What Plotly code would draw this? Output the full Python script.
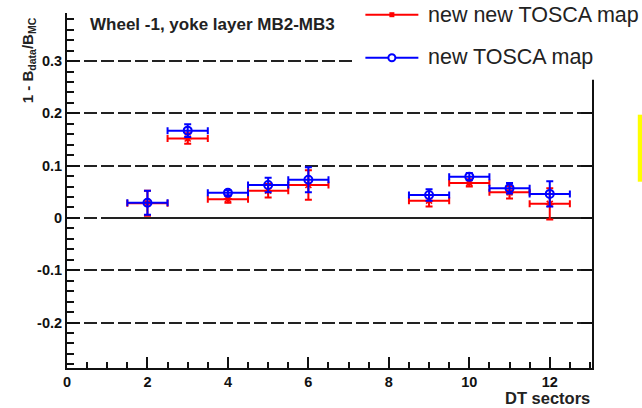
import plotly.graph_objects as go

# DT sector numbers and the half width of each sector bin
sectors = [2, 3, 4, 5, 6, 9, 10, 11, 12]
sector_halfwidth = [0.5, 0.5, 0.5, 0.5, 0.5, 0.5, 0.5, 0.5, 0.5]

# 1 - B_data/B_MC for the two TOSCA field maps, with their uncertainties
new_new_tosca = [0.028, 0.152, 0.036, 0.052, 0.063, 0.033, 0.067, 0.049, 0.027]
new_new_tosca_err = [0.024, 0.010, 0.007, 0.013, 0.028, 0.011, 0.007, 0.012, 0.030]
new_tosca = [0.029, 0.167, 0.048, 0.063, 0.073, 0.044, 0.079, 0.057, 0.046]
new_tosca_err = [0.023, 0.012, 0.005, 0.014, 0.024, 0.011, 0.007, 0.010, 0.024]

series_names = ["new new TOSCA map", "new TOSCA map"]
x_tick_labels = ["0", "2", "4", "6", "8", "10", "12"]
y_tick_values = [-0.2, -0.1, 0, 0.1, 0.2, 0.3]
y_tick_labels = ["-0.2", "-0.1", "0", "0.1", "0.2", "0.3"]

X_RANGE = [0, 13.05]
Y_RANGE = [-0.287, 0.392]
ZERO_LINE_START = 1  # solid zero reference begins at sector 1

W, H = 642, 408
M_L, M_R, M_T, M_B = 66.5, 50.3, 13.3, 39.7
PW, PH = W - M_L - M_R, H - M_T - M_B


def px_x(p):
    """pixel column -> paper x"""
    return (p - M_L) / PW


def px_y(p):
    """pixel row -> paper y"""
    return (H - M_B - p) / PH


RED = "#ff0000"
BLUE = "#0000ff"
FONT = "Liberation Sans, Arial, sans-serif"
DASH = "13px,4px"

fig = go.Figure()

# zero reference: dashed before sector 1, solid afterwards
fig.add_trace(go.Scatter(
    x=[X_RANGE[0], ZERO_LINE_START], y=[0, 0], mode="lines",
    line=dict(color="#222", width=2, dash=DASH), showlegend=False, hoverinfo="skip",
))
fig.add_trace(go.Scatter(
    x=[ZERO_LINE_START, X_RANGE[1]], y=[0, 0], mode="lines",
    line=dict(color="#222", width=2), showlegend=False, hoverinfo="skip",
))

fig.add_trace(go.Scatter(
    x=sectors, y=new_new_tosca, mode="markers", name=series_names[0],
    marker=dict(symbol="asterisk-open", size=7, color=RED, line=dict(color=RED, width=1.6)),
    error_x=dict(type="data", array=sector_halfwidth, color=RED, thickness=2, width=3.5),
    error_y=dict(type="data", array=new_new_tosca_err, color=RED, thickness=2, width=3.5),
    showlegend=False,
))
fig.add_trace(go.Scatter(
    x=sectors, y=new_tosca, mode="markers", name=series_names[1],
    marker=dict(symbol="circle-open", size=8, color=BLUE, line=dict(color=BLUE, width=2)),
    error_x=dict(type="data", array=sector_halfwidth, color=BLUE, thickness=2, width=3.5),
    error_y=dict(type="data", array=new_tosca_err, color=BLUE, thickness=2, width=3.5),
    showlegend=False,
))
# invisible trace to carry the right-hand axis
fig.add_trace(go.Scatter(x=[None], y=[None], yaxis="y2", showlegend=False, hoverinfo="skip"))

tick_font = dict(family=FONT, size=14.5, color="#111", weight="bold")

fig.update_layout(
    width=W, height=H, autosize=False,
    margin=dict(l=M_L, r=M_R, t=M_T, b=M_B, pad=0),
    paper_bgcolor="white", plot_bgcolor="white",
    xaxis=dict(
        range=X_RANGE, showgrid=False, zeroline=False,
        tickmode="array", tickvals=[int(v) for v in x_tick_labels], ticktext=x_tick_labels,
        ticks="inside", ticklen=11, tickwidth=1.5, tickcolor="#111",
        minor=dict(dtick=0.5, tick0=0, ticks="inside", ticklen=6, tickwidth=1.5, tickcolor="#111", showgrid=False),
        showline=True, linecolor="#111", linewidth=2, mirror=False,
        tickfont=tick_font,
    ),
    yaxis=dict(
        range=Y_RANGE, zeroline=False,
        showgrid=True, gridcolor="#222", gridwidth=2, griddash=DASH,
        tickmode="array", tickvals=y_tick_values, ticktext=y_tick_labels,
        ticks="inside", ticklen=13, tickwidth=1.5, tickcolor="#111",
        minor=dict(dtick=0.02, tick0=0, ticks="inside", ticklen=7, tickwidth=1.5, tickcolor="#111", showgrid=False),
        showline=True, linecolor="#111", linewidth=2, mirror=False,
        tickfont=tick_font,
    ),
    yaxis2=dict(
        range=Y_RANGE, overlaying="y", side="right", showgrid=False, zeroline=False,
        tickmode="array", tickvals=y_tick_values, showticklabels=False,
        ticks="inside", ticklen=11, tickwidth=1.5, tickcolor="#111",
        showline=True, linecolor="#111", linewidth=2,
    ),
)

shapes = [
    # legend panel
    dict(type="rect", xref="paper", yref="paper", x0=px_x(352), x1=px_x(W + 2),
         y0=px_y(80), y1=px_y(-2), fillcolor="white", line=dict(width=0), layer="above"),
    dict(type="line", xref="paper", yref="paper", x0=px_x(365), x1=px_x(418),
         y0=px_y(15), y1=px_y(15), line=dict(color=RED, width=2), layer="above"),
    dict(type="line", xref="paper", yref="paper", x0=px_x(365), x1=px_x(418),
         y0=px_y(58), y1=px_y(58), line=dict(color=BLUE, width=2), layer="above"),
    dict(type="circle", xref="paper", yref="paper", xsizemode="pixel", ysizemode="pixel",
         xanchor=px_x(391.5), yanchor=px_y(58), x0=-3.5, x1=3.5, y0=-3.5, y1=3.5,
         fillcolor="white", line=dict(color=BLUE, width=2), layer="above"),
    dict(type="rect", xref="paper", yref="paper", xsizemode="pixel", ysizemode="pixel",
         xanchor=px_x(391.5), yanchor=px_y(15), x0=-2.5, x1=2.5, y0=-2.5, y1=2.5,
         fillcolor=RED, line=dict(width=0), layer="above"),
    # yellow strip at the right page edge
    dict(type="rect", xref="paper", yref="paper", x0=px_x(637.5), x1=px_x(W + 2),
         y0=px_y(182), y1=px_y(115), fillcolor="#ffff00", line=dict(width=0), layer="above"),
]
fig.update_layout(shapes=shapes)

annotations = [
    dict(text="Wheel -1, yoke layer MB2-MB3", xref="paper", yref="paper",
         x=px_x(88), y=px_y(25), xanchor="left", yanchor="middle", showarrow=False,
         font=dict(family=FONT, size=17, color="#222", weight="bold")),
    dict(text=series_names[0], xref="paper", yref="paper",
         x=px_x(426), y=px_y(15), xanchor="left", yanchor="middle", showarrow=False,
         font=dict(family=FONT, size=21.5, color="#222")),
    dict(text=series_names[1], xref="paper", yref="paper",
         x=px_x(426), y=px_y(57), xanchor="left", yanchor="middle", showarrow=False,
         font=dict(family=FONT, size=21.5, color="#222")),
    dict(text="DT sectors", xref="paper", yref="paper",
         x=px_x(592), y=px_y(398), xanchor="right", yanchor="middle", showarrow=False,
         font=dict(family=FONT, size=16.5, color="#222", weight="bold")),
    dict(text="1 - B<sub>data</sub>/B<sub>MC</sub>", xref="paper", yref="paper",
         x=px_x(28), y=px_y(61), xanchor="center", yanchor="middle", showarrow=False,
         textangle=-90, font=dict(family=FONT, size=15, color="#222", weight="bold")),
]
fig.update_layout(annotations=annotations)

fig.write_html("out.html")
